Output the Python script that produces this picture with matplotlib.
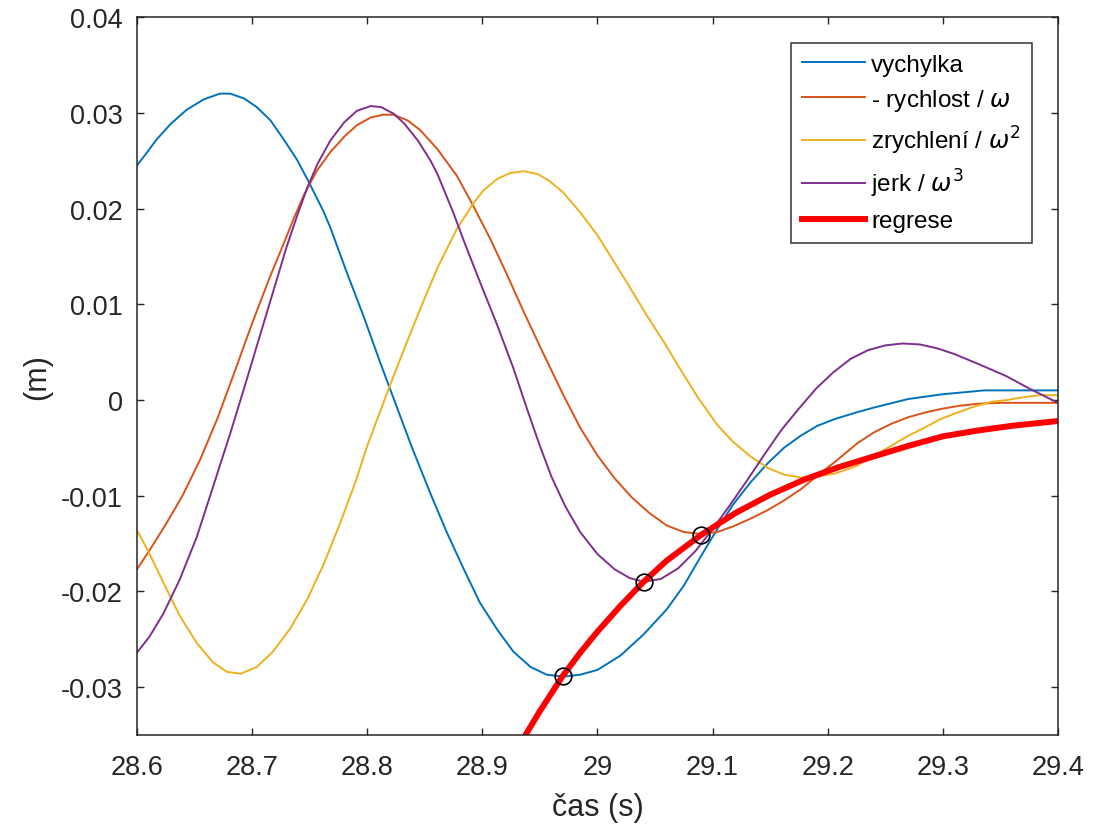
import matplotlib
matplotlib.use("Agg")
import matplotlib.pyplot as plt

plt.rcParams['font.family'] = ['Liberation Sans', 'DejaVu Sans']
plt.rcParams['mathtext.fontset'] = 'dejavusans'

# vychylka (blue)
t_vych = [28.600, 28.609, 28.617, 28.629, 28.643, 28.658, 28.672, 28.681, 28.693,
          28.704, 28.716, 28.727, 28.739, 28.750, 28.762, 28.768, 28.782, 28.797,
          28.811, 28.820, 28.829, 28.839, 28.855, 28.869, 28.884, 28.898, 28.913,
          28.927, 28.942, 28.956, 28.970, 28.985, 29.000, 29.020, 29.040, 29.060,
          29.075, 29.090, 29.104, 29.118, 29.133, 29.148, 29.162, 29.177, 29.191,
          29.206, 29.225, 29.240, 29.270, 29.300, 29.336, 29.400]
y_vych = [0.0245, 0.0259, 0.0272, 0.0288, 0.0303, 0.0314, 0.0320, 0.0320, 0.0315,
          0.0306, 0.0292, 0.0273, 0.0251, 0.0226, 0.0197, 0.0180, 0.0134, 0.0087,
          0.0040, 0.0011, -0.0018, -0.0050, -0.0098, -0.0138, -0.0177, -0.0212, -0.0240,
          -0.0263, -0.0279, -0.0287, -0.0289, -0.0287, -0.0282, -0.0267, -0.0245, -0.0219,
          -0.0194, -0.0163, -0.0135, -0.0109, -0.0086, -0.0066, -0.0050, -0.0037, -0.0027,
          -0.0020, -0.0013, -0.0008, 0.0001, 0.0006, 0.0010, 0.0010]

# - rychlost / omega (orange)
t_rych = [28.600, 28.612, 28.625, 28.640, 28.655, 28.670, 28.685, 28.700, 28.715,
          28.728, 28.736, 28.745, 28.756, 28.768, 28.780, 28.791, 28.803, 28.814,
          28.823, 28.835, 28.846, 28.861, 28.878, 28.892, 28.907, 28.921, 28.936,
          28.950, 28.970, 28.985, 29.000, 29.015, 29.030, 29.045, 29.060, 29.075,
          29.090, 29.104, 29.118, 29.133, 29.148, 29.162, 29.177, 29.191, 29.206,
          29.226, 29.240, 29.255, 29.270, 29.285, 29.300, 29.315, 29.330, 29.350,
          29.400]
y_rych = [-0.0177, -0.0155, -0.0130, -0.0099, -0.0062, -0.0019, 0.0030, 0.0080, 0.0127,
          0.0165, 0.0189, 0.0214, 0.0239, 0.0259, 0.0275, 0.0287, 0.0295, 0.0298,
          0.0298, 0.0292, 0.0282, 0.0262, 0.0234, 0.0203, 0.0168, 0.0132, 0.0092,
          0.0056, 0.0006, -0.0029, -0.0058, -0.0082, -0.0102, -0.0118, -0.0131, -0.0138,
          -0.0140, -0.0138, -0.0132, -0.0124, -0.0115, -0.0105, -0.0093, -0.0079, -0.0065,
          -0.0045, -0.0034, -0.0025, -0.0018, -0.0013, -0.0009, -0.0006, -0.0004, -0.0003,
          -0.0003]

# zrychleni / omega^2 (yellow)
t_zry = [28.600, 28.611, 28.623, 28.637, 28.652, 28.666, 28.678, 28.690, 28.704,
         28.718, 28.733, 28.748, 28.762, 28.777, 28.790, 28.800, 28.810, 28.820,
         28.832, 28.846, 28.861, 28.878, 28.892, 28.901, 28.913, 28.924, 28.936,
         28.948, 28.958, 28.970, 28.985, 29.000, 29.014, 29.029, 29.043, 29.058,
         29.072, 29.087, 29.104, 29.118, 29.133, 29.148, 29.162, 29.177, 29.191,
         29.206, 29.225, 29.240, 29.255, 29.269, 29.284, 29.298, 29.313, 29.327,
         29.342, 29.356, 29.371, 29.385, 29.400]
y_zry = [-0.0136, -0.0161, -0.0191, -0.0225, -0.0254, -0.0274, -0.0284, -0.0286, -0.0279,
         -0.0263, -0.0239, -0.0208, -0.0172, -0.0127, -0.0085, -0.0048, -0.0016, 0.0016,
         0.0053, 0.0095, 0.0138, 0.0179, 0.0205, 0.0219, 0.0231, 0.0237, 0.0239,
         0.0236, 0.0229, 0.0217, 0.0196, 0.0172, 0.0145, 0.0116, 0.0088, 0.0060,
         0.0032, 0.0003, -0.0026, -0.0044, -0.0059, -0.0071, -0.0078, -0.0081, -0.0080,
         -0.0077, -0.0069, -0.0058, -0.0048, -0.0038, -0.0029, -0.0020, -0.0013, -0.0007,
         -0.0002, 0.0000, 0.0003, 0.0005, 0.0005]

# jerk / omega^3 (purple)
t_jerk = [28.600, 28.611, 28.623, 28.637, 28.652, 28.666, 28.681, 28.693, 28.701,
          28.716, 28.730, 28.739, 28.748, 28.757, 28.768, 28.780, 28.791, 28.803,
          28.812, 28.823, 28.832, 28.844, 28.855, 28.861, 28.875, 28.884, 28.898,
          28.913, 28.927, 28.939, 28.950, 28.960, 28.972, 28.985, 29.000, 29.015,
          29.028, 29.040, 29.055, 29.070, 29.085, 29.100, 29.115, 29.130, 29.145,
          29.160, 29.175, 29.190, 29.205, 29.220, 29.235, 29.250, 29.265, 29.280,
          29.295, 29.310, 29.330, 29.355, 29.375, 29.400]
y_jerk = [-0.0264, -0.0247, -0.0223, -0.0188, -0.0143, -0.0091, -0.0035, 0.0012, 0.0044,
          0.0104, 0.0160, 0.0192, 0.0222, 0.0247, 0.0271, 0.0290, 0.0302, 0.0307,
          0.0306, 0.0299, 0.0289, 0.0271, 0.0250, 0.0236, 0.0195, 0.0166, 0.0123,
          0.0078, 0.0033, -0.0010, -0.0048, -0.0080, -0.0111, -0.0138, -0.0161, -0.0177,
          -0.0186, -0.0190, -0.0187, -0.0176, -0.0158, -0.0135, -0.0110, -0.0084, -0.0057,
          -0.0031, -0.0009, 0.0012, 0.0029, 0.0043, 0.0052, 0.0057, 0.0059, 0.0058,
          0.0054, 0.0048, 0.0038, 0.0025, 0.0012, -0.0003]

# regrese (red)
t_reg = [28.937, 28.950, 28.970, 28.985, 29.000, 29.020, 29.040, 29.060, 29.090,
         29.120, 29.150, 29.180, 29.210, 29.240, 29.270, 29.300, 29.330, 29.360, 29.400]
y_reg = [-0.0351, -0.0325, -0.0288, -0.0264, -0.0242, -0.0215, -0.0190, -0.0168, -0.0141,
         -0.0118, -0.0099, -0.0083, -0.0070, -0.0059, -0.0048, -0.0038, -0.0032, -0.0027, -0.0022]

# marked points
t_pts = [28.970, 29.040, 29.090]
y_pts = [-0.0288, -0.0190, -0.0141]

labels = ['vychylka', r'- rychlost / $\omega$', r'zrychlení / $\omega^2$',
          r'jerk / $\omega^3$', 'regrese']
colors = ['#0072BD', '#D95319', '#EDB120', '#7E2F8E', '#FF0000']

xticks = [28.6, 28.7, 28.8, 28.9, 29.0, 29.1, 29.2, 29.3, 29.4]
xticklabels = ['28.6', '28.7', '28.8', '28.9', '29', '29.1', '29.2', '29.3', '29.4']
yticks = [-0.03, -0.02, -0.01, 0.0, 0.01, 0.02, 0.03, 0.04]
yticklabels = ['-0.03', '-0.02', '-0.01', '0', '0.01', '0.02', '0.03', '0.04']

fig = plt.figure(figsize=(11.1, 8.28), dpi=100)
ax = fig.add_axes([0.1234, 0.1111, 0.8297, 0.8671])

ax.plot(t_vych, y_vych, color=colors[0], lw=1.4, label=labels[0])
ax.plot(t_rych, y_rych, color=colors[1], lw=1.4, label=labels[1])
ax.plot(t_zry, y_zry, color=colors[2], lw=1.4, label=labels[2])
ax.plot(t_jerk, y_jerk, color=colors[3], lw=1.4, label=labels[3])
ax.plot(t_reg, y_reg, color=colors[4], lw=4.3, label=labels[4])
ax.plot(t_pts, y_pts, 'o', mfc='none', mec='black', ms=12, mew=1.2)

ax.set_xlim(28.6, 29.4)
ax.set_ylim(-0.035, 0.04)
ax.set_xticks(xticks)
ax.set_xticklabels(xticklabels)
ax.set_yticks(yticks)
ax.set_yticklabels(yticklabels)

tc = '#262626'
ax.tick_params(direction='in', length=5, width=1, colors=tc, labelsize=19.5,
               top=True, right=True, labelcolor=tc)
ax.tick_params(axis='x', pad=14)
ax.tick_params(axis='y', pad=10)
for s in ax.spines.values():
    s.set_color(tc)
    s.set_linewidth(1.1)

ax.set_xlabel('čas (s)', fontsize=22, color=tc)
ax.set_ylabel('(m)', fontsize=22, color=tc)
ax.xaxis.set_label_coords(0.5, -0.08)
ax.yaxis.set_label_coords(-0.092, 0.5)

leg = ax.legend(loc='upper right', bbox_to_anchor=(1 - 26 / 921, 1 - 26 / 718),
                borderaxespad=0, fontsize=17.5, frameon=True, fancybox=False,
                edgecolor='black', handlelength=2.6, handletextpad=0.25,
                labelspacing=0.45, borderpad=0.45)
leg.get_frame().set_linewidth(1.1)
for txt in leg.get_texts():
    txt.set_color('black')

fig.savefig('out.png', dpi=100)
